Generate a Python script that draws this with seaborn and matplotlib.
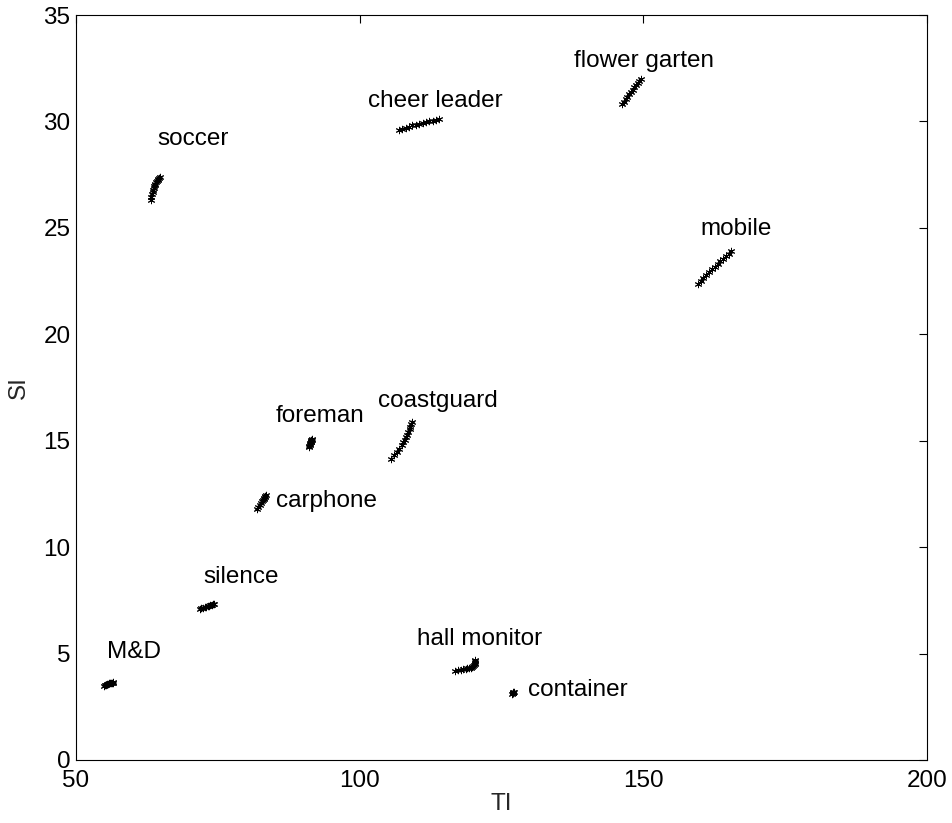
import numpy as np
import pandas as pd
import matplotlib
matplotlib.use("Agg")
import matplotlib.pyplot as plt
import seaborn as sns

# ---- data ----
sequences = ["soccer", "cheer leader", "flower garten", "mobile", "foreman",
             "coastguard", "carphone", "silence", "M&D", "hall monitor", "container"]

soccer_ti = [63.2, 63.3, 63.4, 63.5, 63.6, 63.7, 63.8, 63.9, 64.0, 64.1, 64.2, 64.4, 64.5, 64.7, 64.8]
soccer_si = [26.30, 26.45, 26.58, 26.70, 26.80, 26.88, 26.95, 27.02, 27.08, 27.14, 27.19, 27.26, 27.31, 27.36, 27.40]

cheer_ti = [106.9, 107.5, 108.1, 108.7, 109.3, 109.9, 110.5, 111.1, 111.7, 112.3, 112.9, 113.4, 113.9]
cheer_si = [29.60, 29.66, 29.71, 29.76, 29.81, 29.85, 29.89, 29.93, 29.97, 30.01, 30.04, 30.08, 30.12]

flower_ti = [146.3, 146.6, 146.9, 147.2, 147.5, 147.8, 148.1, 148.4, 148.7, 149.0, 149.3, 149.6]
flower_si = [30.80, 30.93, 31.05, 31.17, 31.28, 31.39, 31.50, 31.60, 31.70, 31.80, 31.90, 32.00]

mobile_ti = [159.6, 160.1, 160.6, 161.1, 161.6, 162.1, 162.6, 163.1, 163.6, 164.1, 164.6, 165.1, 165.5]
mobile_si = [22.35, 22.50, 22.64, 22.78, 22.92, 23.05, 23.18, 23.30, 23.42, 23.54, 23.66, 23.78, 23.90]

foreman_ti = [91.10, 91.15, 91.20, 91.25, 91.30, 91.35, 91.40, 91.45, 91.50, 91.55, 91.60]
foreman_si = [14.70, 14.75, 14.80, 14.85, 14.88, 14.92, 14.96, 14.99, 15.02, 15.05, 15.08]

coast_ti = [105.5, 106.0, 106.5, 107.0, 107.4, 107.7, 108.0, 108.2, 108.4, 108.6, 108.8, 108.95, 109.1, 109.2]
coast_si = [14.15, 14.32, 14.48, 14.63, 14.78, 14.92, 15.05, 15.17, 15.29, 15.41, 15.53, 15.65, 15.77, 15.90]

carphone_ti = [81.85, 82.10, 82.35, 82.55, 82.75, 82.90, 83.05, 83.20, 83.30, 83.40, 83.50]
carphone_si = [11.80, 11.90, 12.00, 12.08, 12.15, 12.21, 12.27, 12.32, 12.37, 12.41, 12.45]

silence_ti = [71.8, 72.1, 72.4, 72.7, 72.95, 73.2, 73.45, 73.7, 73.9, 74.1, 74.25]
silence_si = [7.10, 7.13, 7.15, 7.18, 7.20, 7.22, 7.24, 7.27, 7.29, 7.31, 7.33]

md_ti = [54.9, 55.1, 55.3, 55.5, 55.7, 55.9, 56.05, 56.2, 56.35, 56.5, 56.6]
md_si = [3.50, 3.52, 3.54, 3.56, 3.58, 3.60, 3.61, 3.62, 3.63, 3.64, 3.65]

hall_ti = [116.8, 117.4, 117.9, 118.3, 118.7, 119.0, 119.3, 119.6, 119.85, 120.05, 120.2, 120.3, 120.35, 120.4, 120.4]
hall_si = [4.20, 4.22, 4.24, 4.26, 4.28, 4.30, 4.32, 4.34, 4.37, 4.41, 4.46, 4.52, 4.58, 4.64, 4.70]

container_ti = [126.85, 126.95, 127.0, 127.05, 127.1, 127.15]
container_si = [3.10, 3.13, 3.15, 3.17, 3.19, 3.21]

all_ti = [soccer_ti, cheer_ti, flower_ti, mobile_ti, foreman_ti, coast_ti,
          carphone_ti, silence_ti, md_ti, hall_ti, container_ti]
all_si = [soccer_si, cheer_si, flower_si, mobile_si, foreman_si, coast_si,
          carphone_si, silence_si, md_si, hall_si, container_si]

# label anchor positions (left, baseline) in data units
label_ti = [64.3, 101.5, 137.8, 160.0, 85.1, 103.2, 85.3, 72.4, 55.5, 110.1, 129.7]
label_si = [28.9, 30.68, 32.56, 24.66, 15.88, 16.58, 11.89, 8.32, 4.79, 5.40, 3.01]

x_ticks = [50, 100, 150, 200]
y_ticks = [0, 5, 10, 15, 20, 25, 30, 35]

# ---- build frame ----
rows = []
for name, tis, sis in zip(sequences, all_ti, all_si):
    for t, s in zip(tis, sis):
        rows.append({"sequence": name, "TI": t, "SI": s})
df = pd.DataFrame(rows)

sns.set_theme(style="white")
plt.rcParams["font.family"] = ["Liberation Sans", "DejaVu Sans"]
plt.rcParams["axes.edgecolor"] = "black"
plt.rcParams["axes.linewidth"] = 0.8

fig = plt.figure(figsize=(9.52, 8.23), dpi=100)
ax = fig.add_axes([76 / 952, 63 / 823, (927 - 76) / 952, (760 - 15) / 823])

sns.scatterplot(data=df, x="TI", y="SI", ax=ax, marker=(6, 2, 0), s=22,
                color="black", edgecolor="black", facecolor="black",
                linewidth=0.7, legend=False)

for name, tx, ty in zip(sequences, label_ti, label_si):
    ax.text(tx, ty, name, ha="left", va="baseline", fontsize=17.5, color="black")

ax.set_xlim(50, 200)
ax.set_ylim(0, 35)
ax.set_xticks(x_ticks)
ax.set_yticks(y_ticks)
ax.tick_params(direction="in", length=5.5, width=0.8, top=True, right=True,
               labelsize=17.5, colors="black")
ax.tick_params(axis="x", pad=7)
ax.tick_params(axis="y", pad=4)
ax.set_xlabel("TI", fontsize=17.5, labelpad=1)
ax.set_ylabel("SI", fontsize=17.5, labelpad=10)
for sp in ax.spines.values():
    sp.set_visible(True)
    sp.set_color("black")

fig.savefig("out.png", dpi=100, facecolor="white")
